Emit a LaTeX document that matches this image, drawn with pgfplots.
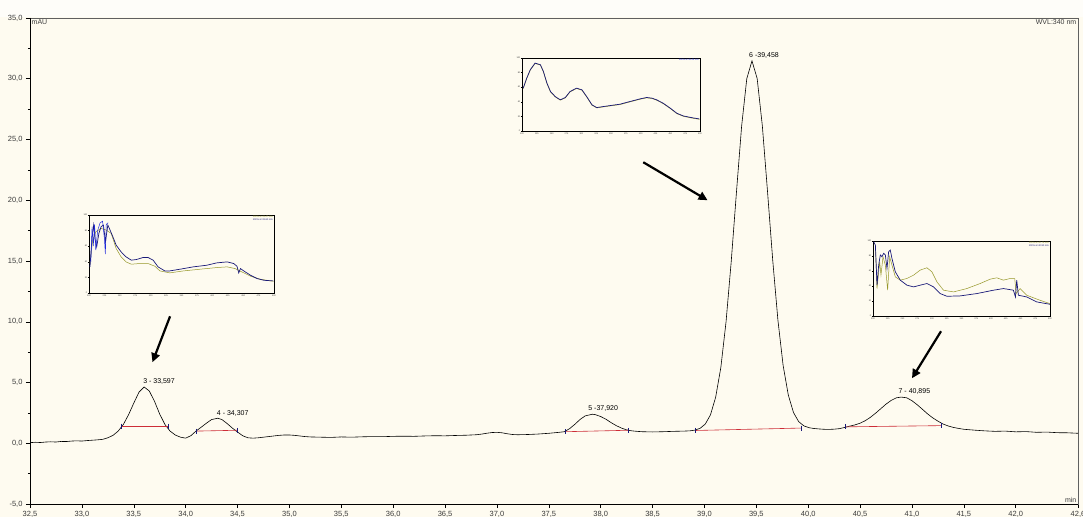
\documentclass[border=0pt]{standalone}
\usepackage{fontspec}
\setmainfont{Liberation Sans}
\usepackage{pgfplots}
\pgfplotsset{compat=1.18}
\usetikzlibrary{arrows.meta}
\definecolor{cream}{RGB}{254,251,240}
\definecolor{navyline}{RGB}{25,25,120}
\definecolor{oliveline}{RGB}{150,150,40}
\definecolor{bluenoise}{RGB}{30,40,220}
\definecolor{redbase}{RGB}{205,45,55}
\definecolor{tickgray}{RGB}{60,60,60}
\pgfplotsset{inset/.style={anchor=south west, scale only axis,
  xmin=200, xmax=500, ymin=0, ymax=100, xtick distance=25, ytick distance=20,
  tick align=outside, tick pos=left, major tick length=1.2pt,
  tick style={black,line width=0.25pt}, axis line style={black,line width=0.4pt},
  ticklabel style={font=\fontsize{2.2}{2.6}\selectfont, text=tickgray, inner sep=0.4pt},
  /pgf/number format/assume math mode=true, /pgf/number format/fixed,
  /pgf/number format/precision=0}}
\begin{document}
\begin{tikzpicture}
\fill[cream] (-30pt,-13pt) rectangle (1053pt,504pt);
\fill[white!60!cream] (-30pt,487pt) rectangle (1053pt,504pt);
\begin{axis}[name=main, at={(0pt,0pt)}, anchor=south west, scale only axis,
  width=1048pt, height=486pt,
  xmin=32.5, xmax=42.6, ymin=-5, ymax=35,
  xtick={32.5,33.0,33.5,34.0,34.5,35.0,35.5,36.0,36.5,37.0,37.5,38.0,38.5,39.0,39.5,40.0,40.5,41.0,41.5,42.0,42.6},
  ytick={-5,0,5,10,15,20,25,30,35},
  minor x tick num=4, minor y tick num=1,
  tick align=outside, tick pos=left,
  major tick length=4pt, minor tick length=2.2pt,
  tick style={black, line width=0.5pt},
  axis line style={draw=gray!75!black, line width=0.6pt},
  ticklabel style={font=\fontsize{7.5}{9}\selectfont, text=tickgray},
  /pgf/number format/assume math mode=true,
  /pgf/number format/fixed, /pgf/number format/fixed zerofill,
  /pgf/number format/precision=1, /pgf/number format/use comma,
]
\draw[black, line width=0.8pt] (rel axis cs:0,1) -- (rel axis cs:0,0) -- (rel axis cs:1,0);
\addplot[black, line width=0.6pt, mark=none] coordinates {
(32.50,0.05) (32.55,0.08) (32.60,0.06) (32.65,0.10) (32.70,0.12) (32.75,0.10) (32.80,0.15) (32.85,0.14) (32.90,0.18) (32.95,0.20) (33.00,0.18) (33.05,0.22) (33.10,0.25) (33.15,0.28) (33.20,0.32) (33.25,0.45) (33.30,0.65) (33.35,1.00) (33.40,1.55) (33.45,2.35) (33.50,3.30) (33.55,4.20) (33.60,4.63) (33.65,4.30) (33.70,3.45) (33.75,2.40) (33.80,1.55) (33.85,1.00) (33.90,0.68) (33.95,0.50) (34.00,0.42) (34.05,0.62) (34.10,1.00) (34.15,1.32) (34.20,1.65) (34.25,1.95) (34.31,2.06) (34.35,1.95) (34.40,1.62) (34.45,1.25) (34.50,0.92) (34.55,0.62) (34.60,0.45) (34.65,0.42) (34.70,0.45) (34.75,0.50) (34.80,0.55) (34.85,0.60) (34.90,0.65) (34.95,0.68) (35.00,0.68) (35.05,0.65) (35.10,0.60) (35.15,0.55) (35.20,0.52) (35.30,0.50) (35.40,0.48) (35.50,0.52) (35.60,0.50) (35.70,0.53) (35.80,0.55) (35.90,0.54) (36.00,0.57) (36.10,0.58) (36.20,0.57) (36.30,0.60) (36.40,0.62) (36.50,0.61) (36.60,0.64) (36.70,0.66) (36.80,0.70) (36.85,0.75) (36.90,0.82) (36.95,0.88) (37.00,0.90) (37.05,0.86) (37.10,0.78) (37.15,0.72) (37.20,0.70) (37.30,0.72) (37.40,0.76) (37.50,0.82) (37.55,0.86) (37.60,0.90) (37.65,0.95) (37.70,1.20) (37.75,1.55) (37.80,1.95) (37.85,2.25) (37.92,2.39) (37.95,2.35) (38.00,2.20) (38.05,1.98) (38.10,1.70) (38.15,1.45) (38.20,1.25) (38.25,1.10) (38.30,1.02) (38.35,0.98) (38.40,0.95) (38.50,0.93) (38.60,0.95) (38.70,0.98) (38.80,1.00) (38.858,1.02)
(38.908,1.08) (38.958,1.23) (39.008,1.58) (39.058,2.34) (39.108,3.79) (39.158,6.24) (39.208,9.99) (39.258,14.96) (39.308,20.62) (39.358,26.08) (39.408,30.01) (39.458,31.47) (39.508,30.02) (39.558,26.11) (39.608,20.69) (39.658,15.06) (39.708,10.13) (39.758,6.41) (39.808,3.97) (39.858,2.53) (39.908,1.78) (39.958,1.43) (40.008,1.28)
(40.05,1.22) (40.10,1.18) (40.15,1.15) (40.20,1.14) (40.25,1.16) (40.30,1.20) (40.35,1.30) (40.40,1.41) (40.45,1.51) (40.50,1.65) (40.55,1.86) (40.60,2.14) (40.65,2.48) (40.70,2.85) (40.75,3.22) (40.80,3.53) (40.85,3.74) (40.895,3.80) (40.95,3.74) (41.00,3.50) (41.05,3.17) (41.10,2.80) (41.15,2.42) (41.20,2.09) (41.25,1.82) (41.30,1.58) (41.35,1.42) (41.40,1.30) (41.45,1.22) (41.50,1.15) (41.60,1.08) (41.70,1.02) (41.80,0.98) (41.90,1.00) (42.00,0.94) (42.10,0.96) (42.20,0.90) (42.30,0.92) (42.40,0.87) (42.50,0.86) (42.60,0.82)};
\addplot[redbase, line width=0.6pt, mark=none] coordinates {(33.38,1.40) (33.83,1.40)};
\addplot[redbase, line width=0.6pt, mark=none] coordinates {(34.10,1.00) (34.50,1.07)};
\addplot[redbase, line width=0.6pt, mark=none] coordinates {(37.66,0.95) (38.27,1.07)};
\addplot[redbase, line width=0.6pt, mark=none] coordinates {(38.91,1.05) (39.93,1.25)};
\addplot[redbase, line width=0.6pt, mark=none] coordinates {(40.36,1.35) (41.28,1.45)};
\addplot[only marks, mark=|, mark size=2.5pt, navyline, mark options={line width=0.5pt}] coordinates {(33.38,1.40) (33.83,1.40) (34.10,1.00) (34.50,1.07) (37.66,0.95) (38.27,1.07) (38.91,1.05) (39.93,1.25) (40.36,1.35) (41.28,1.45)};
\node[anchor=south west, inner sep=1pt, font=\fontsize{7}{8}\selectfont] at (axis cs:33.58,4.75) {3 - 33,597};
\node[anchor=south west, inner sep=1pt, font=\fontsize{7}{8}\selectfont] at (axis cs:34.29,2.15) {4 - 34,307};
\node[anchor=south west, inner sep=1pt, font=\fontsize{7}{8}\selectfont] at (axis cs:37.87,2.5) {5 -37,920};
\node[anchor=south west, inner sep=1pt, font=\fontsize{7}{8}\selectfont] at (axis cs:39.42,31.55) {6 -39,458};
\node[anchor=south west, inner sep=1pt, font=\fontsize{7}{8}\selectfont] at (axis cs:40.86,3.9) {7 - 40,895};
\draw[line width=2.2pt, -{Triangle[length=9pt,width=8.5pt]}] (axis cs:33.85,10.45) -- (axis cs:33.68,6.67);
\draw[line width=2.2pt, -{Triangle[length=9pt,width=8.5pt]}] (axis cs:38.41,23.13) -- (axis cs:39.03,20.0);
\draw[line width=2.2pt, -{Triangle[length=9pt,width=8.5pt]}] (axis cs:41.28,9.22) -- (axis cs:41.0,5.35);
\node[anchor=north west, inner sep=1.5pt, font=\fontsize{7}{8}\selectfont, text=tickgray] at (rel axis cs:0,1) {mAU};
\node[anchor=north east, inner sep=1.5pt, font=\fontsize{7}{8}\selectfont, text=tickgray] at (rel axis cs:1,1) {WVL:340 nm};
\node[anchor=south east, inner sep=1.5pt, font=\fontsize{7}{8}\selectfont, text=tickgray] at (rel axis cs:1,0) {min};
\end{axis}
% inset 1 (peak 3)
\begin{axis}[inset, at={(59pt,211pt)}, width=185pt, height=78pt]
\addplot[oliveline, line width=0.5pt, mark=none] coordinates {(201.6,37.8) (206,67.8) (211,78.5) (219.6,82.8) (228,80.7) (236,76.4) (244,57.1) (252,46.4) (260,39.9) (268.6,36.9) (282,37.8) (295.8,37.8) (306.8,34.3) (315,28.3) (331,25.8) (353,28.3) (380,30.5) (407,32.6) (424,33.5) (437,31.3) (448,27) (462,21.5) (478,17.6) (499,15)};
\addplot[navyline, line width=0.7pt, mark=none] coordinates {(201.6,33.5) (205,72.1) (207.6,87.1) (210,67.8) (212.5,59.2) (216,76.4) (219.6,85) (223.4,87.1) (226.7,65.7) (230.5,87.1) (233,82.8) (238.7,72.1) (244,61.4) (252,52.8) (260,46.4) (268.6,42.1) (276.8,42.9) (287.7,45.5) (295.8,45.5) (304,42.1) (312,33.5) (323,28.3) (331,28.3) (347.6,30.5) (369,33.5) (391,35.6) (407,38.6) (424,39.9) (434.6,37.8) (440,34.3) (442.8,25.8) (445.6,31.3) (451,28.3) (462,22.7) (472.7,18.5) (483.7,16.3) (499,15.5)};
\addplot[bluenoise, line width=0.5pt, mark=none] coordinates {(203,40) (205,85) (207,60) (209,88) (211,55) (214,80) (218,90) (222,92) (225,70) (226.5,50) (228,88) (231,90)};
\node[anchor=south west, inner sep=0.5pt, font=\fontsize{2.6}{3}\selectfont] at (rel axis cs:0,1) {PEAK \#3 \quad 100\% at 33.60 min};
\node[anchor=north east, inner sep=1pt, align=right, font=\fontsize{2.4}{2.8}\selectfont] at (rel axis cs:1,1) {\textcolor{oliveline}{100\% at 33.47 min}\\\textcolor{navyline}{100\% at 33.60 min}};
\end{axis}
% inset 2 (peak 6)
\begin{axis}[inset, at={(492pt,373pt)}, width=178pt, height=73pt]
\addplot[oliveline, line width=0.5pt, mark=none] coordinates {(202,58.0) (208,72.0) (214,83.5) (222,92.5) (231,90.3) (236,81.2) (242,65.1) (248,53.6) (256,46.7) (264.5,42.2) (273,45.4) (281,53.6) (292,58.2) (301,55.9) (309,46.7) (318,35.3) (326,31.6) (337,33.0) (349,34.4) (365,36.2) (382,39.9) (399,43.5) (410,45.4) (419,44.5) (427,42.2) (438,37.5) (450,30.7) (461,23.8) (472,20.1) (486,17.8) (499,16.0)};
\addplot[navyline, line width=0.7pt, mark=none] coordinates {(202,58.7) (208,72.5) (214,84) (222,93) (231,90.8) (236,81.7) (242,65.6) (248,54.1) (256,47.2) (264.5,42.7) (273,45.9) (281,54.1) (292,58.7) (301,56.4) (309,47.2) (318,35.8) (326,32.1) (337,33.5) (349,34.9) (365,36.7) (382,40.4) (399,44) (410,45.9) (419,45) (427,42.7) (438,38) (450,31.2) (461,24.3) (472,20.6) (486,18.3) (499,16.5)};
\node[anchor=south west, inner sep=0.5pt, font=\fontsize{2.6}{3}\selectfont] at (rel axis cs:0,1) {PEAK \#6 \quad 100\% at 39.46 min};
\node[anchor=north east, inner sep=1pt, align=right, font=\fontsize{2.4}{2.8}\selectfont] at (rel axis cs:1,1) {\textcolor{bluenoise}{100\% at 39.45 min}};
\end{axis}
% inset 3 (peak 7)
\begin{axis}[inset, at={(843pt,188pt)}, width=177pt, height=75pt]
\addplot[oliveline, line width=0.5pt, mark=none] coordinates {(204,94.6) (206.8,36.6) (211.3,72.3) (213.5,54.5) (216.9,79) (220.9,67.9) (224.8,34.4) (228.2,79) (232.1,67.9) (237.8,52.2) (246.2,47.8) (257.5,50) (268.8,54.5) (280,61.2) (291.4,64.3) (299.8,58.9) (308.3,45.5) (319.5,34.4) (336.5,32.1) (359,36.6) (381.6,43.3) (398.5,49.1) (409.8,50.9) (421,47.8) (432.3,50) (440.2,50) (442.5,29.9) (449.3,36.6) (460.5,27.7) (483,21) (500,16.5)};
\addplot[navyline, line width=0.7pt, mark=none] coordinates {(201,99.1) (204,94.6) (206.8,41.1) (209.6,67.9) (212.4,81.3) (215.2,79) (218,83.5) (220.9,81.3) (223.7,63.4) (226.5,85.7) (229.3,87.9) (232.1,76.8) (237.8,58.9) (246.2,47.8) (257.5,41.1) (268.8,38.8) (280,41.1) (291.4,43.3) (302.6,38.8) (313.9,29.9) (325.2,26.3) (347.7,26.8) (375.9,29.9) (404.1,34.4) (421,36.6) (437.9,34.4) (441.4,25.4) (443.6,47.8) (446.4,27.7) (460.5,25.4) (477.4,18.8) (500,15.6)};
\node[anchor=south west, inner sep=0.5pt, font=\fontsize{2.6}{3}\selectfont] at (rel axis cs:0,1) {PEAK \#7 \quad 100\% at 40.90 min};
\node[anchor=north east, inner sep=1pt, align=right, font=\fontsize{2.4}{2.8}\selectfont] at (rel axis cs:1,1) {\textcolor{oliveline}{100\% at 40.75 min}\\\textcolor{navyline}{100\% at 40.90 min}};
\end{axis}
\pgfresetboundingbox
\path[use as bounding box] (-30pt,-13pt) rectangle (1053pt,504pt);
\end{tikzpicture}
\end{document}
